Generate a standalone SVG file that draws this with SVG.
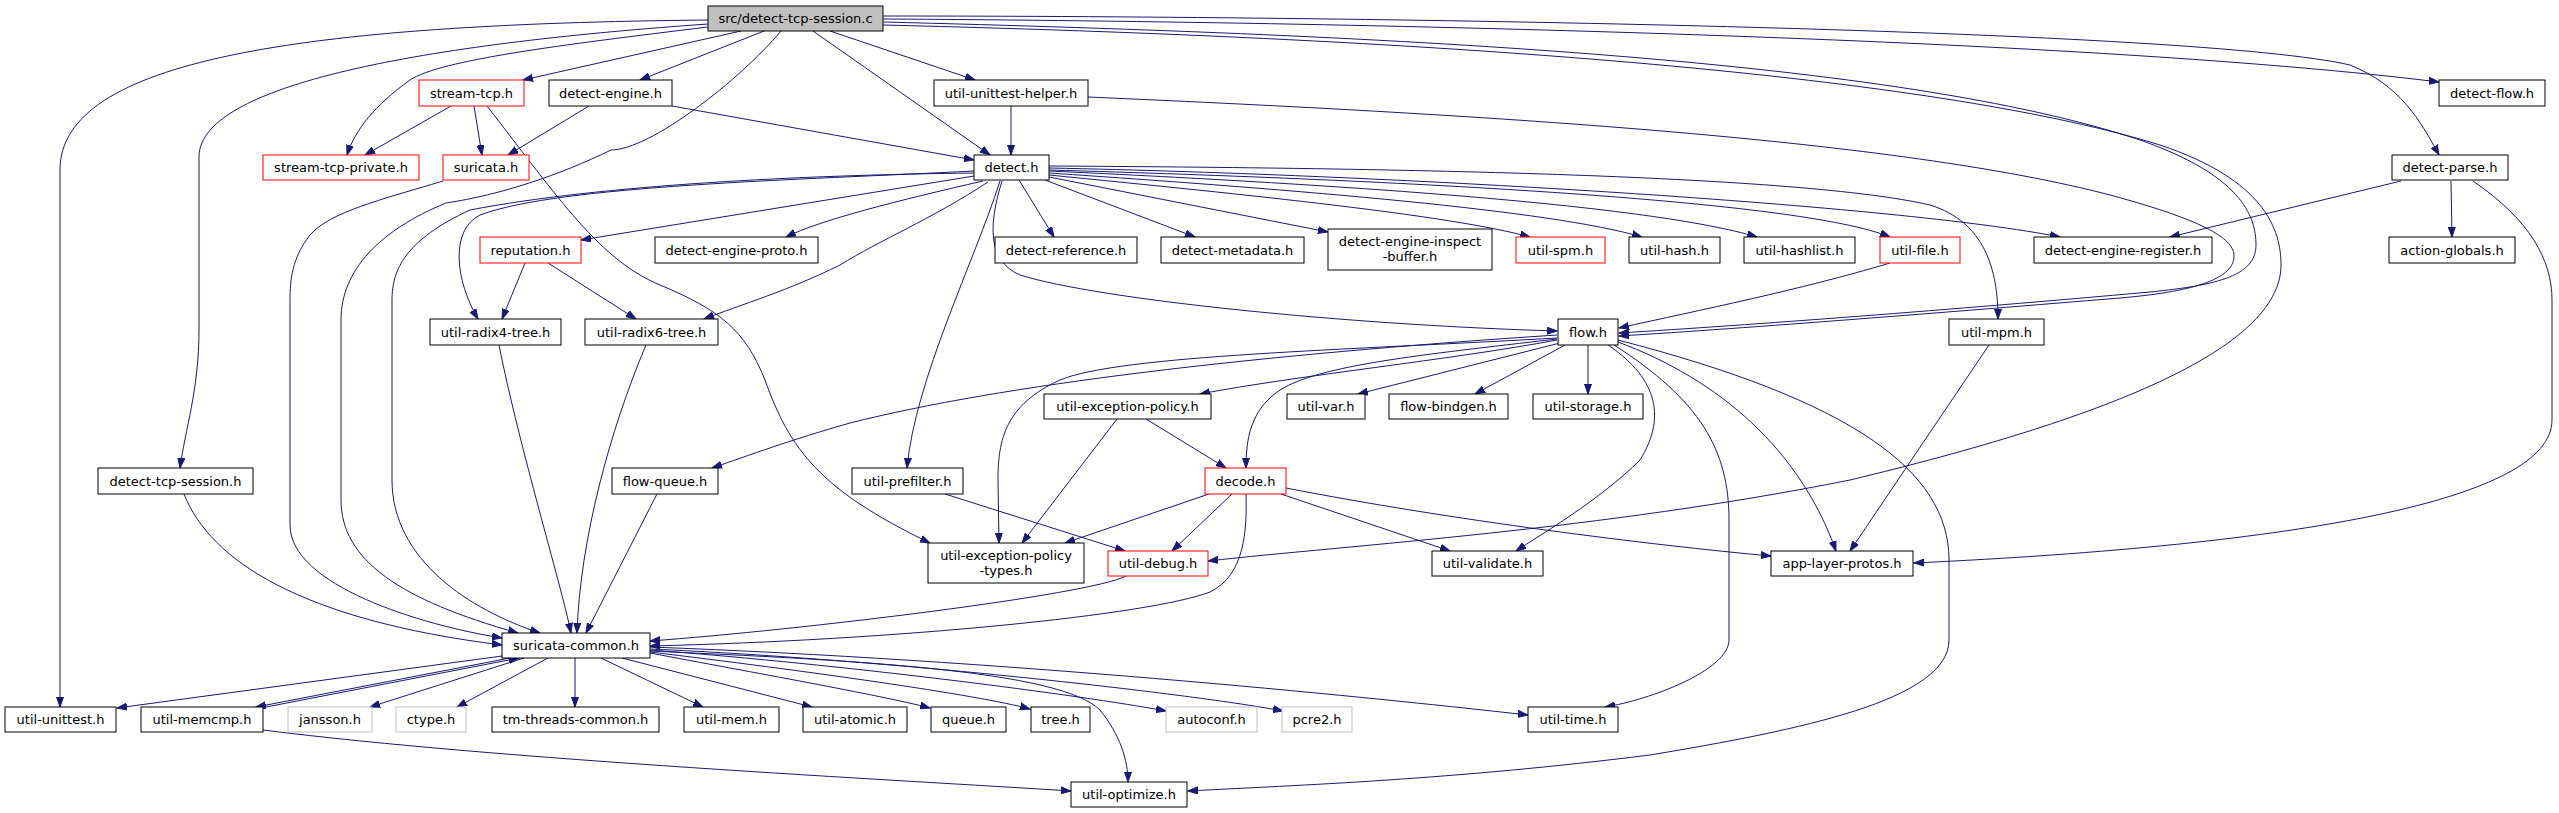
<svg xmlns="http://www.w3.org/2000/svg" width="2559" height="813" viewBox="0 0 2559 813">
<style>
.n rect{fill:#fff;stroke:#000;stroke-width:1}
.n.r rect{stroke:#ff0000}
.n.g rect{stroke:#bfbfbf}
.n.s rect{fill:#bfbfbf}
.n text{font-family:"DejaVu Sans","Liberation Sans",sans-serif;font-size:13px;text-anchor:middle;fill:#000}
#edges path{fill:none;stroke:#191970;stroke-width:1;marker-end:url(#ah)}
</style>
<defs>
<marker id="ah" markerWidth="11" markerHeight="8" refX="10" refY="4" orient="auto" markerUnits="userSpaceOnUse">
<path d="M0,0.5 L10,4 L0,7.5 z" fill="#191970" stroke="#191970" stroke-width="1"/>
</marker>
</defs>
<rect width="2559" height="813" fill="#fff"/>
<g id="edges">
<!-- from src -->
<path d="M741,31 L523,80"/>
<path d="M764,31 L640,80"/>
<path d="M813,31 L990,155"/>
<path d="M830,31 L975,80"/>
<path d="M708,20 C300,24 60,60 60,170 L60,707"/>
<path d="M708,24 C450,42 199,80 199,157 L199,330 C199,390 185,430 180,468"/>
<path d="M708,27 C560,45 440,60 410,80 C375,105 355,130 347,155"/>
<path d="M781,31 C740,80 650,150 611,150 C560,175 500,195 446,203 C380,230 341,270 341,320 L341,500 C341,560 400,600 518,633"/>
<path d="M883,19 C1400,22 2100,40 2439,82"/>
<path d="M883,16 C1400,16 2200,30 2350,65 C2400,85 2420,120 2439,155"/>
<path d="M883,22 C1400,35 1900,60 2140,140 C2240,175 2256,215 2256,245 C2256,275 2220,285 2150,292 C1950,310 1750,325 1619,333"/>
<path d="M883,25 C1500,40 1950,80 2160,145 C2265,180 2281,230 2281,265 C2281,350 2100,420 1850,480 C1600,530 1350,545 1208,561"/>
<!-- level 1 -->
<path d="M451,106 L365,155"/>
<path d="M474,106 L482,155"/>
<path d="M487,106 C560,200 600,260 660,285 C720,310 745,330 765,380 C790,450 820,490 930,543"/>
<path d="M589,106 L508,155"/>
<path d="M672,106 L974,160"/>
<path d="M1011,106 L1011,155"/>
<path d="M1088,97 C1500,115 1900,140 2110,195 C2210,222 2234,240 2234,256 C2234,280 2190,292 2120,298 C1950,312 1750,328 1619,336"/>
<path d="M443,181 C380,200 330,212 310,235 C292,258 290,280 290,300 L290,525 C290,585 420,625 502,638"/>
<path d="M184,494 C210,560 300,620 502,645"/>
<!-- detect.h -->
<path d="M974,176 L581,240"/>
<path d="M983,181 C900,200 820,220 786,237"/>
<path d="M988,182 C930,220 880,240 840,265 C790,290 740,305 704,319"/>
<path d="M974,171 C800,180 560,185 480,215 C450,230 455,280 478,319"/>
<path d="M974,173 C800,175 600,185 470,210 C405,240 392,270 392,300 L392,480 C392,560 470,610 540,633"/>
<path d="M1002,181 C990,220 985,260 1020,275 C1100,300 1350,325 1557,331"/>
<path d="M1000,181 C975,260 915,380 907,468"/>
<path d="M1019,180 L1054,237"/>
<path d="M1045,180 L1195,237"/>
<path d="M1049,177 L1328,232"/>
<path d="M1049,175 C1250,195 1450,215 1530,237"/>
<path d="M1049,173 C1300,190 1550,210 1642,237"/>
<path d="M1049,171 C1350,185 1650,205 1757,237"/>
<path d="M1049,170 C1400,180 1800,200 1890,237"/>
<path d="M1049,168 C1400,175 1900,205 2060,237"/>
<path d="M1049,166 C1400,168 1800,175 1930,205 C1985,222 1998,270 1998,319"/>
<!-- others -->
<path d="M2401,181 L2170,237"/>
<path d="M2451,181 L2452,237"/>
<path d="M2473,181 C2530,220 2552,260 2552,300 L2552,420 C2552,500 2300,545 1914,563"/>
<path d="M525,263 L502,319"/>
<path d="M548,263 L636,319"/>
<path d="M1890,263 C1800,290 1700,310 1619,328"/>
<path d="M1989,345 L1850,551"/>
<path d="M499,345 C520,450 560,580 571,633"/>
<path d="M646,345 C610,430 580,540 577,633"/>
<path d="M657,494 L586,633"/>
<!-- flow.h -->
<path d="M1557,335 C1250,355 1000,385 850,423 C790,440 750,455 712,468"/>
<path d="M1557,338 C1350,350 1120,355 1060,380 C1005,405 998,440 998,480 L999,543"/>
<path d="M1557,340 C1450,360 1300,375 1200,394"/>
<path d="M1557,339 C1420,355 1320,365 1280,390 C1250,410 1246,440 1246,468"/>
<path d="M1560,343 L1358,394"/>
<path d="M1565,345 L1475,394"/>
<path d="M1588,345 L1588,394"/>
<path d="M1608,345 C1660,380 1665,420 1640,460 C1600,500 1540,535 1516,551"/>
<path d="M1614,345 C1700,400 1729,450 1729,520 L1729,640 C1729,670 1650,700 1605,707"/>
<path d="M1618,342 C1720,380 1800,450 1836,551"/>
<path d="M1618,340 C1850,400 1949,470 1949,560 L1949,640 C1949,700 1800,730 1650,755 C1450,780 1300,785 1188,791"/>
<!-- mid -->
<path d="M1117,419 L1022,543"/>
<path d="M1146,419 L1226,468"/>
<path d="M945,494 L1125,551"/>
<path d="M1209,494 L1065,543"/>
<path d="M1232,494 L1172,551"/>
<path d="M1281,494 L1450,551"/>
<path d="M1286,488 C1450,520 1650,545 1771,556"/>
<path d="M1246,494 C1247,530 1245,575 1210,592 C1150,615 900,640 650,646"/>
<path d="M1126,576 C1090,595 800,630 650,641"/>
<!-- suricata-common -->
<path d="M502,656 L117,708"/>
<path d="M510,658 L256,707"/>
<path d="M266,707 L519,658"/>
<path d="M524,658 L370,707"/>
<path d="M548,658 L457,707"/>
<path d="M575,658 L575,707"/>
<path d="M601,658 L703,707"/>
<path d="M622,658 L812,707"/>
<path d="M650,653 C750,672 880,695 930,708"/>
<path d="M650,652 C800,670 980,695 1030,709"/>
<path d="M650,650 C850,665 1080,695 1166,711"/>
<path d="M650,649 C900,660 1200,695 1283,711"/>
<path d="M650,647 C1000,660 1350,695 1528,715"/>
<path d="M650,651 C850,660 1060,670 1100,710 C1120,735 1128,760 1128,782"/>
<path d="M263,730 C500,760 900,780 1071,791"/>
</g>
<g id="n_src" class="n s"><rect x="708" y="6" width="175" height="25"/><text x="795.5" y="23">src/detect-tcp-session.c</text></g>
<g id="n_stream_tcp" class="n r"><rect x="419" y="80" width="105" height="26"/><text x="471.5" y="97.5">stream-tcp.h</text></g>
<g id="n_detect_engine" class="n"><rect x="549" y="80" width="123" height="26"/><text x="610.5" y="97.5">detect-engine.h</text></g>
<g id="n_util_unittest_helper" class="n"><rect x="934" y="80" width="154" height="26"/><text x="1011" y="97.5">util-unittest-helper.h</text></g>
<g id="n_detect_flow" class="n"><rect x="2439" y="80" width="106" height="26"/><text x="2492" y="97.5">detect-flow.h</text></g>
<g id="n_stream_tcp_private" class="n r"><rect x="263" y="155" width="156" height="25"/><text x="341" y="172">stream-tcp-private.h</text></g>
<g id="n_suricata" class="n r"><rect x="443" y="155" width="86" height="25"/><text x="486" y="172">suricata.h</text></g>
<g id="n_detect" class="n"><rect x="974" y="155" width="75" height="25"/><text x="1011.5" y="172">detect.h</text></g>
<g id="n_detect_parse" class="n"><rect x="2392" y="155" width="116" height="25"/><text x="2450" y="172">detect-parse.h</text></g>
<g id="n_reputation" class="n r"><rect x="480" y="237" width="101" height="26"/><text x="530.5" y="254.5">reputation.h</text></g>
<g id="n_detect_engine_proto" class="n"><rect x="655" y="237" width="163" height="26"/><text x="736.5" y="254.5">detect-engine-proto.h</text></g>
<g id="n_detect_reference" class="n"><rect x="995" y="237" width="142" height="26"/><text x="1066" y="254.5">detect-reference.h</text></g>
<g id="n_detect_metadata" class="n"><rect x="1161" y="237" width="143" height="26"/><text x="1232.5" y="254.5">detect-metadata.h</text></g>
<g id="n_detect_engine_inspect_buffer" class="n"><rect x="1328" y="229" width="164" height="41"/><text x="1410" y="246">detect-engine-inspect</text><text x="1410" y="261">-buffer.h</text></g>
<g id="n_util_spm" class="n r"><rect x="1516" y="237" width="89" height="26"/><text x="1560.5" y="254.5">util-spm.h</text></g>
<g id="n_util_hash" class="n"><rect x="1629" y="237" width="91" height="26"/><text x="1674.5" y="254.5">util-hash.h</text></g>
<g id="n_util_hashlist" class="n"><rect x="1744" y="237" width="111" height="26"/><text x="1799.5" y="254.5">util-hashlist.h</text></g>
<g id="n_util_file" class="n r"><rect x="1880" y="237" width="80" height="26"/><text x="1920" y="254.5">util-file.h</text></g>
<g id="n_detect_engine_register" class="n"><rect x="2034" y="237" width="178" height="26"/><text x="2123" y="254.5">detect-engine-register.h</text></g>
<g id="n_action_globals" class="n"><rect x="2389" y="237" width="126" height="26"/><text x="2452" y="254.5">action-globals.h</text></g>
<g id="n_util_radix4_tree" class="n"><rect x="430" y="319" width="131" height="26"/><text x="495.5" y="336.5">util-radix4-tree.h</text></g>
<g id="n_util_radix6_tree" class="n"><rect x="585" y="319" width="133" height="26"/><text x="651.5" y="336.5">util-radix6-tree.h</text></g>
<g id="n_flow" class="n"><rect x="1558" y="319" width="60" height="26"/><text x="1588" y="336.5">flow.h</text></g>
<g id="n_util_mpm" class="n"><rect x="1949" y="319" width="95" height="26"/><text x="1996.5" y="336.5">util-mpm.h</text></g>
<g id="n_util_exception_policy" class="n"><rect x="1044" y="394" width="167" height="25"/><text x="1127.5" y="411">util-exception-policy.h</text></g>
<g id="n_util_var" class="n"><rect x="1287" y="394" width="78" height="25"/><text x="1326" y="411">util-var.h</text></g>
<g id="n_flow_bindgen" class="n"><rect x="1389" y="394" width="119" height="25"/><text x="1448.5" y="411">flow-bindgen.h</text></g>
<g id="n_util_storage" class="n"><rect x="1533" y="394" width="110" height="25"/><text x="1588" y="411">util-storage.h</text></g>
<g id="n_detect_tcp_session_h" class="n"><rect x="98" y="468" width="155" height="26"/><text x="175.5" y="485.5">detect-tcp-session.h</text></g>
<g id="n_flow_queue" class="n"><rect x="612" y="468" width="106" height="26"/><text x="665" y="485.5">flow-queue.h</text></g>
<g id="n_util_prefilter" class="n"><rect x="852" y="468" width="111" height="26"/><text x="907.5" y="485.5">util-prefilter.h</text></g>
<g id="n_decode" class="n r"><rect x="1205" y="468" width="81" height="26"/><text x="1245.5" y="485.5">decode.h</text></g>
<g id="n_util_exception_policy_types" class="n"><rect x="928" y="543" width="156" height="40"/><text x="1006" y="560">util-exception-policy</text><text x="1006" y="575">-types.h</text></g>
<g id="n_util_debug" class="n r"><rect x="1108" y="551" width="100" height="25"/><text x="1158" y="568">util-debug.h</text></g>
<g id="n_util_validate" class="n"><rect x="1432" y="551" width="111" height="25"/><text x="1487.5" y="568">util-validate.h</text></g>
<g id="n_app_layer_protos" class="n"><rect x="1771" y="551" width="142" height="25"/><text x="1842" y="568">app-layer-protos.h</text></g>
<g id="n_suricata_common" class="n"><rect x="502" y="633" width="148" height="25"/><text x="576" y="650">suricata-common.h</text></g>
<g id="n_util_unittest" class="n"><rect x="5" y="707" width="111" height="25"/><text x="60.5" y="724">util-unittest.h</text></g>
<g id="n_util_memcmp" class="n"><rect x="141" y="707" width="122" height="25"/><text x="202" y="724">util-memcmp.h</text></g>
<g id="n_jansson" class="n g"><rect x="288" y="707" width="84" height="25"/><text x="330" y="724">jansson.h</text></g>
<g id="n_ctype" class="n g"><rect x="396" y="707" width="70" height="25"/><text x="431" y="724">ctype.h</text></g>
<g id="n_tm_threads_common" class="n"><rect x="492" y="707" width="167" height="25"/><text x="575.5" y="724">tm-threads-common.h</text></g>
<g id="n_util_mem" class="n"><rect x="684" y="707" width="95" height="25"/><text x="731.5" y="724">util-mem.h</text></g>
<g id="n_util_atomic" class="n"><rect x="803" y="707" width="104" height="25"/><text x="855" y="724">util-atomic.h</text></g>
<g id="n_queue" class="n"><rect x="931" y="707" width="75" height="25"/><text x="968.5" y="724">queue.h</text></g>
<g id="n_tree" class="n"><rect x="1031" y="707" width="59" height="25"/><text x="1060.5" y="724">tree.h</text></g>
<g id="n_autoconf" class="n g"><rect x="1166" y="707" width="91" height="25"/><text x="1211.5" y="724">autoconf.h</text></g>
<g id="n_pcre2" class="n g"><rect x="1282" y="707" width="70" height="25"/><text x="1317" y="724">pcre2.h</text></g>
<g id="n_util_time" class="n"><rect x="1528" y="707" width="90" height="25"/><text x="1573" y="724">util-time.h</text></g>
<g id="n_util_optimize" class="n"><rect x="1071" y="782" width="116" height="25"/><text x="1129" y="799">util-optimize.h</text></g>
</svg>
